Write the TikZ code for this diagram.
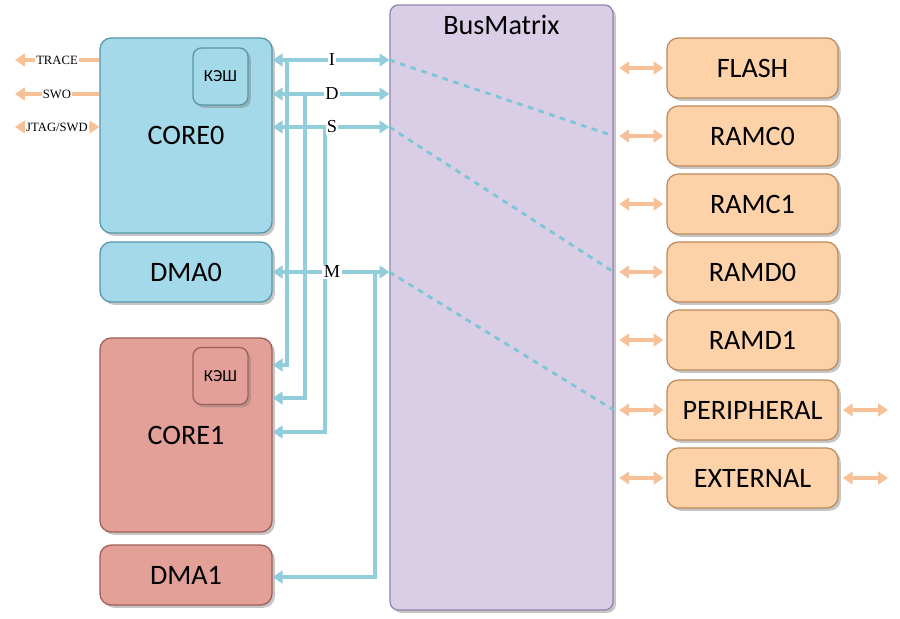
\documentclass[tikz,border=0pt]{standalone}
\usepackage{fontspec}
\setmainfont{Liberation Serif}
\newfontfamily\boxfont{Carlito}
\usetikzlibrary{arrows.meta, shadows, positioning}

\definecolor{coreblue}{HTML}{A3D9E8}
\definecolor{coreedge}{HTML}{5597A8}
\definecolor{corered}{HTML}{E3A099}
\definecolor{rededge}{HTML}{9E5E57}
\definecolor{memorange}{HTML}{FDD2A8}
\definecolor{memedge}{HTML}{BE8A5C}
\definecolor{matrixlilac}{HTML}{D9CEE6}
\definecolor{matrixedge}{HTML}{9484AD}
\definecolor{buscyan}{HTML}{92CDDC}
\definecolor{dashcyan}{HTML}{7CC6D8}
\definecolor{dbgorange}{HTML}{F8C096}

\begin{document}
\begin{tikzpicture}[
  x=0.025cm, y=-0.025cm,
  block/.style={draw, rounded corners=8pt, line width=0.9pt,
    font=\boxfont\fontsize{20}{24}\selectfont,
    drop shadow={opacity=0.45, shadow xshift=2pt, shadow yshift=-2pt}},
  cpu/.style={block, fill=coreblue, draw=coreedge, minimum width=4.3cm},
  cpured/.style={block, fill=corered, draw=rededge, minimum width=4.3cm},
  cache/.style={block, rounded corners=6pt, minimum width=1.375cm,
    minimum height=1.425cm, font=\boxfont\fontsize{12}{14}\selectfont},
  mem/.style={block, fill=memorange, draw=memedge, minimum width=4.275cm,
    minimum height=1.5cm},
  bus/.style={draw=buscyan, line width=2.8pt, >={Triangle[length=7pt,width=9pt]}},
  dashbus/.style={draw=dashcyan, line width=2pt, dash pattern=on 4pt off 4pt},
  dbg/.style={draw=dbgorange, line width=2.5pt, >={Triangle[length=7pt,width=9pt]}},
  sig/.style={fill=white, inner sep=1pt, font=\fontsize{13}{15}\selectfont},
  dbglabel/.style={fill=white, inner sep=1pt, font=\fontsize{9}{11}\selectfont}
]
\useasboundingbox (0,0) rectangle (900,618);

% rows and columns of the buses
\coordinate (yI) at (0,60);
\coordinate (yD) at (0,94);
\coordinate (yS) at (0,127);
\coordinate (yM) at (0,272);
\coordinate (yI1) at (0,365);
\coordinate (yD1) at (0,398);
\coordinate (yS1) at (0,432);
\coordinate (yM1) at (0,577);
\coordinate (xI) at (287,0);
\coordinate (xD) at (305,0);
\coordinate (xS) at (325,0);
\coordinate (xM) at (375,0);
\coordinate (xL) at (15,0);
\coordinate (xR) at (888,0);

% masters
\node[cpu, minimum height=4.875cm] (core0) at (186,135.5) {CORE0};
\node[cache, fill=coreblue, draw=coreedge] (cache0) at (220.5,76.5) {КЭШ};
\node[cpu, minimum height=1.5cm] (dma0) at (186,272) {DMA0};
\node[cpured, minimum height=4.85cm] (core1) at (186,435) {CORE1};
\node[cache, fill=corered, draw=rededge] (cache1) at (220.5,376) {КЭШ};
\node[cpured, minimum height=1.5cm] (dma1) at (186,575) {DMA1};

% bus matrix
\node[block, fill=matrixlilac, draw=matrixedge, rounded corners=6pt,
  minimum width=5.575cm, minimum height=15.125cm] (bm) at (501.5,307.5) {};
\node[font=\boxfont\fontsize{20}{24}\selectfont, below=4pt of bm.north] (bmtitle) {BusMatrix};

% slaves
\node[mem] (flash) at (752.5,68) {FLASH};
\node[mem] (ramc0) at (752.5,136) {RAMC0};
\node[mem] (ramc1) at (752.5,204) {RAMC1};
\node[mem] (ramd0) at (752.5,272) {RAMD0};
\node[mem] (ramd1) at (752.5,340) {RAMD1};
\node[mem] (peri) at (752.5,410) {PERIPHERAL};
\node[mem] (ext) at (752.5,478) {EXTERNAL};

% slave links
\draw[dbg, <->, shorten <=4pt, shorten >=2pt] (bm.east |- flash) -- (flash.west);
\draw[dbg, <->, shorten <=4pt, shorten >=2pt] (bm.east |- ramc0) -- (ramc0.west);
\draw[dbg, <->, shorten <=4pt, shorten >=2pt] (bm.east |- ramc1) -- (ramc1.west);
\draw[dbg, <->, shorten <=4pt, shorten >=2pt] (bm.east |- ramd0) -- (ramd0.west);
\draw[dbg, <->, shorten <=4pt, shorten >=2pt] (bm.east |- ramd1) -- (ramd1.west);
\draw[dbg, <->, shorten <=4pt, shorten >=2pt] (bm.east |- peri) -- (peri.west);
\draw[dbg, <->, shorten <=4pt, shorten >=2pt] (bm.east |- ext) -- (ext.west);
\draw[dbg, <->, shorten <=3pt] (peri.east) -- (xR |- peri);
\draw[dbg, <->, shorten <=3pt] (ext.east) -- (xR |- ext);

% debug port
\draw[dbg, ->] (core0.west |- yI) -- (xL |- yI);
\draw[dbg, ->] (core0.west |- yD) -- (xL |- yD);
\draw[dbg, <->] (core0.west |- yS) -- (xL |- yS);

% I, D, S, M buses
\draw[bus, <->] (core0.east |- yI) -- (bm.west |- yI);
\draw[bus, <->] (core0.east |- yD) -- (bm.west |- yD);
\draw[bus, <->] (core0.east |- yS) -- (bm.west |- yS);
\draw[bus, <->] (dma0.east |- yM) -- (bm.west |- yM);
\draw[bus, ->] (xI |- yI) |- (core1.east |- yI1);
\draw[bus, ->] (xD |- yD) |- (core1.east |- yD1);
\draw[bus, ->] (xS |- yS) |- (core1.east |- yS1);
\draw[bus, ->] (xM |- yM) |- (dma1.east |- yM1);

% paths through the matrix
\draw[dashbus] (bm.west |- yI) -- (bm.east |- ramc0);
\draw[dashbus] (bm.west |- yS) -- (bm.east |- ramd0);
\draw[dashbus] (bm.west |- yM) -- (bm.east |- peri);

% labels
\node[sig] (sigI) at (332,60) {I};
\node[sig] (sigD) at (332,94) {D};
\node[sig] (sigS) at (332,127) {S};
\node[sig] (sigM) at (332,272) {M};
\node[dbglabel] (trace) at (57,60) {TRACE};
\node[dbglabel] (swo) at (57,94) {SWO};
\node[dbglabel] (jtag) at (57,127) {JTAG/SWD};

\end{tikzpicture}
\end{document}
